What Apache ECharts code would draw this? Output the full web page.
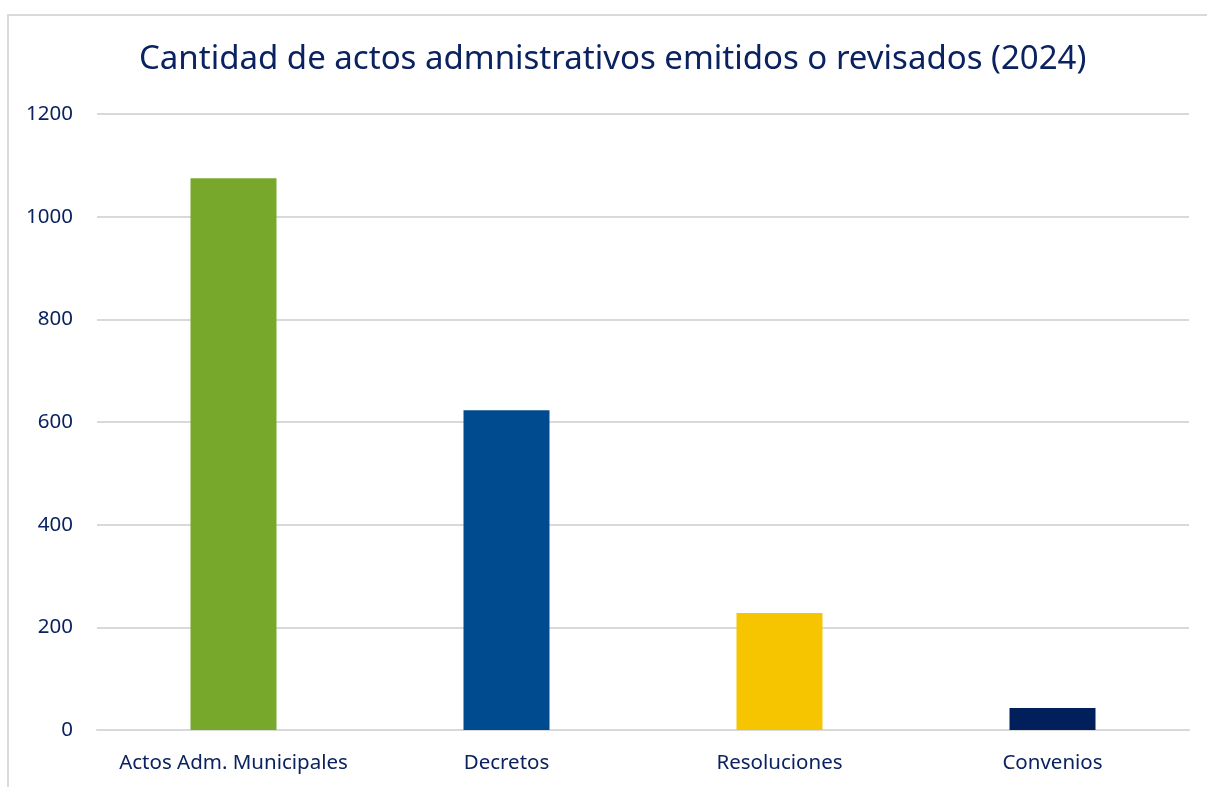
<html lang="es">
<head>
  <meta charset="UTF-8">
  <title>Cantidad de actos administrativos</title>
  <style>
    body {
      margin: 0;
      padding: 0;
      background: #ffffff;
      overflow: hidden;
    }
    .frame {
      position: absolute;
      left: 7px;
      top: 14px;
      width: 1400px;
      height: 900px;
      border-left: 2px solid #d9d9d9;
      border-top: 2px solid #d9d9d9;
    }
    #chart {
      position: absolute;
      left: 0;
      top: 0;
      width: 1207px;
      height: 787px;
    }
  </style>
  <script src="https://cdn.jsdelivr.net/npm/echarts@6/dist/echarts.min.js"></script>
</head>
<body>
  <div class="frame"></div>
  <div id="chart"></div>
  <script>
    const categories = ['Actos Adm. Municipales', 'Decretos', 'Resoluciones', 'Convenios'];
    const values = [1075, 623, 228, 43];
    const barColors = ['#78a82b', '#004a8f', '#f6c500', '#001f5b'];

    const textColor = '#0b2260';
    const fontName = "'Noto Sans', sans-serif";

    let chart = echarts.init(document.getElementById('chart'), null, { renderer: 'canvas' });

    let option = {
      animation: false,
      title: {
        text: 'Cantidad de actos admnistrativos emitidos o revisados (2024)',
        left: 134,
        top: 38,
        textStyle: {
          color: textColor,
          fontFamily: fontName,
          fontWeight: 'normal',
          fontSize: 33
        }
      },
      grid: {
        left: 97,
        right: 18,
        top: 114,
        bottom: 57
      },
      xAxis: {
        type: 'category',
        data: categories,
        axisTick: { show: false },
        axisLine: { lineStyle: { color: '#d9d9d9', width: 2 } },
        axisLabel: {
          interval: 0,
          color: textColor,
          fontFamily: fontName,
          fontSize: 20.5,
          margin: 23
        }
      },
      yAxis: {
        type: 'value',
        min: 0,
        max: 1200,
        interval: 200,
        axisLine: { show: false },
        axisTick: { show: false },
        splitLine: { lineStyle: { color: '#d9d9d9', width: 2 } },
        axisLabel: {
          color: textColor,
          fontFamily: fontName,
          fontSize: 20.5,
          margin: 24,
          formatter: v => String(v)
        }
      },
      series: [
        {
          type: 'bar',
          barWidth: '31.5%',
          data: values.map((v, i) => ({ value: v, itemStyle: { color: barColors[i] } }))
        }
      ]
    };

    chart.setOption(option);
  </script>
</body>
</html>
